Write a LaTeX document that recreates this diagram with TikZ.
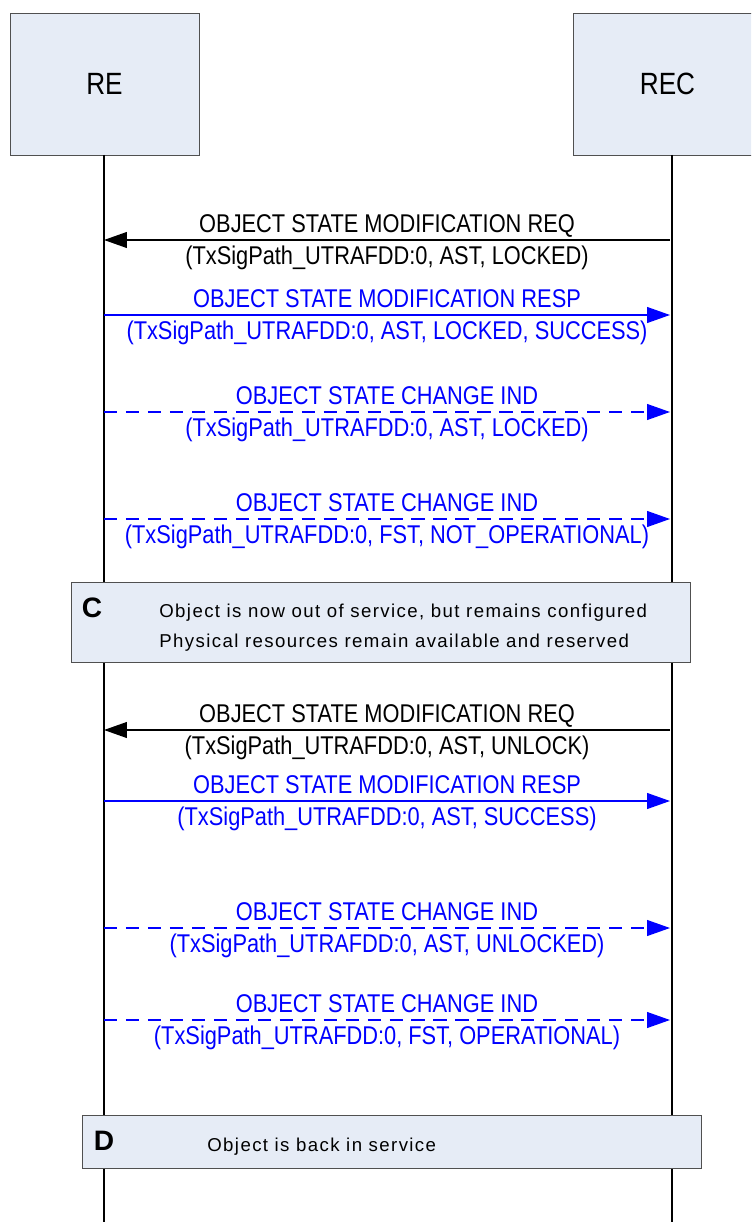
\documentclass[tikz,border=0pt]{standalone}
\usepackage{fontspec}
\setmainfont{Liberation Sans}
\newfontfamily\narrowfont[FakeStretch=0.85]{Liberation Sans}
\newfontfamily\spacedfont[LetterSpace=7.5]{Liberation Sans}
\usetikzlibrary{arrows.meta}
\definecolor{boxfill}{RGB}{230,236,246}
\definecolor{boxline}{RGB}{80,80,80}

\begin{document}
\begin{tikzpicture}[x=0.02cm,y=-0.02cm,
  entity/.style={draw=boxline,fill=boxfill,line width=0.5pt,minimum width=3.78cm,
    minimum height=2.84cm,font=\narrowfont\fontsize{17.5}{20}\selectfont},
  notebox/.style={draw=boxline,fill=boxfill,line width=0.5pt,minimum width=12.38cm},
  lifeline/.style={line width=0.75pt},
  msg/.style={line width=0.75pt,-{Triangle[length=13pt,width=9pt]}},
  ind/.style={msg,dash pattern=on 7.5pt off 5pt},
  msgup/.style={anchor=base,yshift=4pt,inner sep=0pt,font=\narrowfont\fontsize{14.6}{17}\selectfont},
  msgdown/.style={anchor=base,yshift=-14pt,inner sep=0pt,font=\narrowfont\fontsize{14.6}{17}\selectfont},
  tag/.style={inner sep=0pt,font=\bfseries\fontsize{16}{19}\selectfont},
  notetext/.style={anchor=base west,inner sep=0pt,font=\spacedfont\fontsize{10.6}{12}\selectfont}]
\useasboundingbox (0,0) rectangle (751,1222);
\clip (0,0) rectangle (751,1222);

% entities and lifelines
\node[entity] (re) at (104.5,84) {RE};
\node[entity] (rec) at (667.5,84) {REC};
\coordinate (reTop) at (104,155);
\coordinate (reEnd) at (104,1222);
\coordinate (recTop) at (672,155);
\coordinate (recEnd) at (672,1222);
\draw[lifeline] (reTop) -- (reEnd);
\draw[lifeline] (recTop) -- (recEnd);

\foreach \i/\y in {1/240,2/315,3/412,4/519,5/730,6/801,7/928,8/1020} {
  \coordinate (re\i) at (104,\y);
  \coordinate (rec\i) at (670,\y);
}

% locking
\draw[msg] (rec1) -- node[msgup] {OBJECT STATE MODIFICATION REQ}
  node[msgdown] {(TxSigPath\_UTRAFDD:0, AST, LOCKED)} (re1);
\draw[msg,blue] (re2) -- node[msgup] {OBJECT STATE MODIFICATION RESP}
  node[msgdown] {(TxSigPath\_UTRAFDD:0, AST, LOCKED, SUCCESS)} (rec2);
\draw[ind,blue] (re3) -- node[msgup] {OBJECT STATE CHANGE IND}
  node[msgdown] {(TxSigPath\_UTRAFDD:0, AST, LOCKED)} (rec3);
\draw[ind,blue] (re4) -- node[msgup] {OBJECT STATE CHANGE IND}
  node[msgdown] {(TxSigPath\_UTRAFDD:0, FST, NOT\_OPERATIONAL)} (rec4);

\node[notebox,minimum height=1.6cm] (boxc) at (380.5,622) {};
\node[tag] (tagc) at (92,607.5) {C};
\node[notetext] (notec1) at (159,617) {Object is now out of service, but remains configured};
\node[notetext] (notec2) at (159,647) {Physical resources remain available and reserved};

% unlocking
\draw[msg] (rec5) -- node[msgup] {OBJECT STATE MODIFICATION REQ}
  node[msgdown] {(TxSigPath\_UTRAFDD:0, AST, UNLOCK)} (re5);
\draw[msg,blue] (re6) -- node[msgup] {OBJECT STATE MODIFICATION RESP}
  node[msgdown] {(TxSigPath\_UTRAFDD:0, AST, SUCCESS)} (rec6);
\draw[ind,blue] (re7) -- node[msgup] {OBJECT STATE CHANGE IND}
  node[msgdown] {(TxSigPath\_UTRAFDD:0, AST, UNLOCKED)} (rec7);
\draw[ind,blue] (re8) -- node[msgup] {OBJECT STATE CHANGE IND}
  node[msgdown] {(TxSigPath\_UTRAFDD:0, FST, OPERATIONAL)} (rec8);

\node[notebox,minimum height=1.06cm] (boxd) at (391.5,1141.5) {};
\node[tag] (tagd) at (104,1141) {D};
\node[notetext] (noted) at (207,1151) {Object is back in service};
\end{tikzpicture}
\end{document}
